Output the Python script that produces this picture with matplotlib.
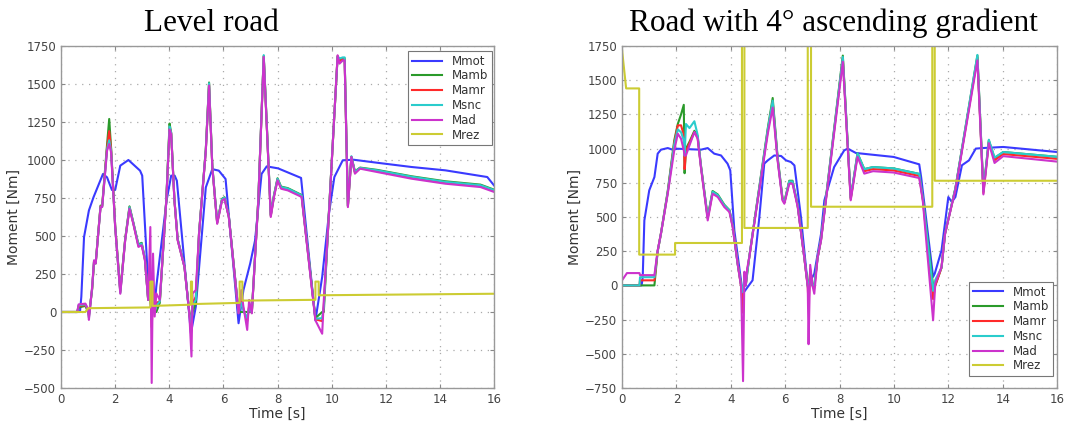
import numpy as np
from matplotlib import pyplot as plt

# ---------------- level road (left) ----------------
t_lvl = [0, 0.6, 0.65, 0.9, 1.0, 1.03, 1.15, 1.22, 1.28, 1.46, 1.52, 1.7, 1.78, 1.85, 2.0, 2.19,
         2.37, 2.53, 2.67, 2.86, 2.98, 3.1, 3.22, 3.3, 3.35, 3.4, 3.46, 3.52, 3.65, 3.89, 4.01,
         4.07, 4.19, 4.31, 4.56, 4.74, 4.82, 4.86, 4.98, 5.1, 5.35, 5.47, 5.59, 5.77, 5.95, 6.04,
         6.2, 6.56, 6.66, 6.74, 6.88, 6.95, 7.05, 7.29, 7.49, 7.75, 7.87, 8.0, 8.13, 8.38, 8.89,
         9.4, 9.65, 9.71, 9.9, 10.22, 10.29, 10.41, 10.48, 10.6, 10.73, 10.86, 11.05, 11.68,
         12.95, 14.2, 15.5, 16]
mad_lvl = [0, 0, 50, 55, 20, -52, 166, 340, 319, 690, 690, 1061, 1105, 1050, 559, 120,
           471, 679, 581, 428, 439, 340, 79, 559, -467, 384, -30, 122, 80, 733, 1200,
           1170, 733, 471, 297, -9, -293, 122, 144, 515, 1061, 1490, 952, 580, 733, 744,
           624, -9, 144, 35, -118, 79, -9, 733, 1678, 625, 757, 866, 811, 800, 757,
           -55, -143, 77, 647, 1689, 1634, 1655, 1655, 690, 1020, 910, 943, 921,
           877, 844, 822, 790]
mamb_lvl = [0, 0, 30, 40, 0, -20, 150, 330, 320, 700, 700, 1100, 1270, 1080, 570, 140,
            480, 695, 590, 445, 455, 350, 80, 100, 0, 0, 0, 0, 60, 740, 1240,
            1180, 740, 480, 300, 0, -50, 0, 60, 520, 1070, 1510, 960, 590, 745, 755,
            630, 0, 0, 0, 0, 0, 0, 740, 1685, 640, 770, 880, 825, 815, 770,
            -40, 0, 0, 660, 1680, 1660, 1670, 1670, 700, 1020, 925, 950, 935,
            893, 860, 838, 805]
mamr_lvl = [0, 0, 40, 45, 10, -30, 155, 335, 320, 695, 695, 1080, 1190, 1070, 565, 130,
            475, 688, 585, 435, 447, 345, 80, 200, -100, 100, 0, 60, 70, 736, 1215,
            1175, 736, 475, 298, -5, -120, 60, 100, 518, 1065, 1500, 955, 585, 740, 750,
            627, -5, 80, 20, -60, 40, -5, 736, 1680, 632, 763, 873, 818, 808, 763,
            -48, -60, 40, 653, 1685, 1650, 1662, 1662, 695, 1020, 918, 947, 928,
            885, 852, 830, 798]
msnc_lvl = [0, 0, 45, 50, 15, -40, 160, 338, 320, 692, 692, 1070, 1130, 1060, 562, 125,
            473, 690, 588, 440, 450, 348, 80, 150, -50, 50, 0, 40, 70, 738, 1220,
            1178, 738, 478, 299, -5, -80, 40, 80, 519, 1068, 1505, 958, 588, 742, 752,
            628, -5, 60, 10, -40, 30, -5, 738, 1690, 636, 767, 877, 822, 812, 767,
            -45, -40, 30, 657, 1683, 1668, 1675, 1675, 698, 1025, 922, 948, 932,
            890, 856, 834, 802]

t_mot_lvl = [0, 0.7, 0.75, 0.85, 1.03, 1.2, 1.55, 1.7, 1.88, 2.0, 2.19, 2.49, 2.92, 3.0, 3.2,
             3.34, 3.45, 3.52, 3.9, 4.07, 4.2, 4.28, 4.8, 4.98, 5.35, 5.59, 5.83, 6.08, 6.56,
             6.74, 6.99, 7.17, 7.41, 7.6, 8.02, 8.87, 9.4, 9.65, 9.9, 10.1, 10.41, 10.8, 11.68,
             12.95, 14.2, 15.75, 16]
mmot_lvl = [0, 0, 100, 493, 668, 755, 908, 886, 803, 803, 963, 1000, 930, 897, 253,
            0, 20, 166, 733, 897, 897, 864, -140, 35, 820, 940, 930, 875, -74,
            144, 319, 471, 908, 958, 945, 882, -55, 230, 647, 888, 998, 1002, 982,
            954, 932, 888, 833]

t_rez_lvl = [0, 0.9, 1.0, 3.3, 3.3, 3.38, 3.38, 4.8, 4.8, 4.84, 4.84, 6.6, 6.6, 6.7, 6.7,
             9.4, 9.4, 9.52, 9.52, 16]
mrez_lvl = [0, 0, 25, 30, 200, 200, 40, 48, 200, 200, 52, 60, 200, 200, 75,
            80, 200, 200, 110, 120]

# ---------------- 4 deg gradient (right) ----------------
t_grd = [0, 0.18, 0.64, 0.66, 1.19, 1.31, 1.43, 1.68, 1.92, 2.05, 2.17, 2.27, 2.3, 2.35, 2.48,
         2.66, 2.78, 2.9, 3.15, 3.33, 3.52, 3.76, 3.95, 4.07, 4.25, 4.38, 4.45, 4.5, 4.55, 4.6,
         4.68, 4.99, 5.36, 5.54, 5.72, 5.9, 5.97, 6.15, 6.27, 6.46, 6.7, 6.83, 6.86, 6.92, 7.0,
         7.07, 7.19, 7.32, 8.12, 8.41, 8.66, 8.91, 9.23, 9.99, 10.93, 11.06, 11.44, 11.52,
         11.75, 11.88, 12.26, 13.07, 13.29, 13.49, 13.7, 14.02, 16]
mad_grd = [37, 90, 90, 75, 75, 256, 378, 670, 987, 1109, 1072, 987, 950, 950, 1024,
           1121, 1072, 865, 475, 670, 646, 573, 536, 426, 158, -12, -700, 100, 0, 120,
           207, 621, 1109, 1300, 914, 621, 597, 743, 743, 573, 207, -12, -430, 150, 0,
           -61, 200, 330, 1635, 622, 940, 817, 835, 825, 785, 622, -255, 13,
           135, 378, 700, 1645, 665, 1040, 895, 945, 905]
mamb_grd = [0, 0, 0, 0, 0, 250, 380, 690, 1060, 1180, 1250, 1320, 820, 1000, 1050,
            1130, 1090, 880, 500, 690, 665, 590, 550, 440, 165, 0, -100, 50, 0, 80,
            210, 640, 1150, 1370, 940, 640, 610, 765, 765, 585, 210, 0, -50, 100, 0,
            0, 200, 340, 1680, 640, 965, 850, 865, 855, 815, 640, 0, 0,
            130, 380, 710, 1680, 690, 1060, 930, 975, 940]
mamr_grd = [0, 0, 0, 37, 37, 250, 378, 680, 1040, 1170, 1170, 1100, 850, 980, 1040,
            1120, 1080, 870, 490, 680, 655, 580, 545, 430, 160, -10, -200, 80, 0, 100,
            207, 630, 1130, 1340, 925, 630, 605, 755, 755, 580, 207, -10, -150, 120, 0,
            -20, 200, 335, 1660, 630, 955, 835, 850, 840, 800, 630, -100, 0,
            130, 378, 705, 1665, 675, 1050, 915, 960, 925]
msnc_grd = [0, 0, 0, 60, 60, 250, 378, 680, 1030, 1140, 1120, 1060, 950, 1180, 1150,
            1200, 1100, 875, 495, 685, 660, 585, 548, 435, 160, 0, -50, 60, 0, 90,
            210, 635, 1140, 1350, 930, 635, 608, 760, 760, 583, 210, 0, -60, 90, 0,
            0, 200, 340, 1670, 640, 965, 850, 865, 855, 815, 640, -40, 40,
            130, 380, 710, 1685, 690, 1065, 935, 975, 940]

t_mot_grd = [0, 0.72, 0.76, 0.82, 1.0, 1.19, 1.31, 1.43, 1.68, 1.86, 2.05, 2.9, 3.15, 3.39,
             3.64, 3.88, 3.98, 4.13, 4.44, 4.8, 5.05, 5.23, 5.36, 5.6, 5.85, 6.03, 6.21, 6.34,
             6.58, 6.83, 7.07, 7.32, 7.44, 7.8, 8.17, 8.3, 8.6, 9.99, 10.93, 11.0, 11.44, 11.5,
             11.75, 12.0, 12.13, 12.26, 12.5, 12.76, 13.01, 13.26, 14.02, 16]
mmot_grd = [0, 0, 61, 475, 695, 792, 963, 992, 1004, 992, 999, 992, 1004, 963,
            950, 890, 841, 402, -61, 37, 500, 890, 914, 950, 946, 914, 902, 877,
            500, 0, 85, 378, 621, 865, 987, 1000, 968, 939, 885, 792, 62, 86,
            256, 646, 610, 646, 878, 914, 1000, 1004, 1012, 975]

t_rez_grd = [0, 0.15, 0.63, 0.63, 1.95, 1.95, 4.41, 4.41, 4.5, 4.5, 6.83, 6.83, 6.95, 6.95,
             11.41, 11.41, 11.5, 11.5, 16]
mrez_grd = [1720, 1440, 1440, 225, 225, 310, 310, 2500, 2500, 420, 420, 2500, 2500, 575,
            575, 2500, 2500, 765, 765]

labels = ['Mmot', 'Mamb', 'Mamr', 'Msnc', 'Mad', 'Mrez']
colors = ['#3a3aff', '#2a9a2a', '#ff2a2a', '#2acccc', '#cc33cc', '#cccc33']

panels = [
    dict(rect=[0.0572, 0.0935, 0.4058, 0.799], ylim=(-500, 1750),
         loc='upper right', anchor=(0.995, 0.985),
         series=[(t_mot_lvl, mmot_lvl), (t_lvl, mamb_lvl), (t_lvl, mamr_lvl),
                 (t_lvl, msnc_lvl), (t_lvl, mad_lvl), (t_rez_lvl, mrez_lvl)]),
    dict(rect=[0.583, 0.0935, 0.4077, 0.799], ylim=(-750, 1750),
         loc='lower right', anchor=(0.99, 0.035),
         series=[(t_mot_grd, mmot_grd), (t_grd, mamb_grd), (t_grd, mamr_grd),
                 (t_grd, msnc_grd), (t_grd, mad_grd), (t_rez_grd, mrez_grd)]),
]

fig = plt.figure(figsize=(10.67, 4.28), dpi=100)
for p in panels:
    ax = fig.add_axes(p['rect'])
    for (tt, vv), lab, col in zip(p['series'], labels, colors):
        ax.plot(tt, vv, color=col, lw=1.5, label=lab)
    ax.set_xlim(0, 16)
    ax.set_ylim(*p['ylim'])
    ax.set_xticks(np.arange(0, 17, 2))
    ax.set_yticks(np.arange(p['ylim'][0], 1751, 250))
    ax.grid(True, color='#aaaaaa', linestyle=(0, (1, 4.5)), linewidth=0.9)
    ax.tick_params(direction='in', top=True, right=True, length=3, width=0.8,
                   colors='#888888', labelcolor='#444444', labelsize=8.5)
    for s in ax.spines.values():
        s.set_color('#999999')
        s.set_linewidth(1.0)
    ax.set_xlabel('Time [s]', fontsize=10, color='#333333', labelpad=1)
    ax.set_ylabel('Moment [Nm]', fontsize=10, color='#333333', labelpad=2)
    leg = ax.legend(loc=p['loc'], bbox_to_anchor=p['anchor'], fontsize=8.5,
                    fancybox=False, framealpha=1, edgecolor='#777777',
                    handlelength=2.6, borderpad=0.3, labelspacing=0.15,
                    handletextpad=0.8, borderaxespad=0.0)
    leg.get_frame().set_linewidth(0.8)
    for txt in leg.get_texts():
        txt.set_color('#333333')

fig.text(0.198, 0.945, 'Level road', family='Liberation Serif', fontsize=22.5,
         ha='center', va='center')
fig.text(0.781, 0.945, 'Road with 4° ascending gradient', family='Liberation Serif',
         fontsize=22.5, ha='center', va='center')

fig.savefig('out.png', dpi=100)
